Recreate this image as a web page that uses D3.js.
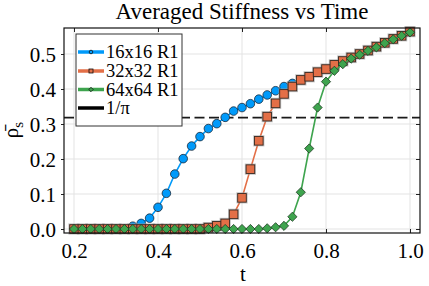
<!DOCTYPE html>
<html><head><meta charset="utf-8">
<script src="https://cdn.jsdelivr.net/npm/d3@7/dist/d3.min.js"></script>
<style>body{margin:0;background:#fff}svg{display:block}text{font-family:"Liberation Serif","Times New Roman","DejaVu Serif",serif;fill:#000}</style>
</head><body>
<script>
// ---- data ----
const tBlue = [0.20,0.22,0.24,0.26,0.28,0.30,0.32,0.34,0.36,0.38,0.40,0.42,0.44,0.46,0.48,0.50,0.52,0.54,0.56,0.58,0.60,0.62,0.64,0.66,0.68,0.70,0.72];
const vBlue = [0,0,0,0,0,0,0,0.008,0.016,0.031,0.062,0.102,0.157,0.201,0.237,0.264,0.287,0.301,0.319,0.337,0.347,0.358,0.371,0.383,0.395,0.407,0.416];
const tFull = [0.20,0.22,0.24,0.26,0.28,0.30,0.32,0.34,0.36,0.38,0.40,0.42,0.44,0.46,0.48,0.50,0.52,0.54,0.56,0.58,0.60,0.62,0.64,0.66,0.68,0.70,0.72,0.74,0.76,0.78,0.80,0.82,0.84,0.86,0.88,0.90,0.92,0.94,0.96,0.98,1.00];
const vOrange = [0,0,0,0,0,0,0,0,0,0,0,0,0,0,0,0,0.004,0.009,0.016,0.042,0.089,0.171,0.252,0.321,0.359,0.386,0.407,0.426,0.435,0.448,0.457,0.469,0.480,0.490,0.500,0.510,0.521,0.532,0.543,0.552,0.564];
const vGreen = [0,0,0,0,0,0,0,0,0,0,0,0,0,0,0,0,0,0,0,0,0,0,0,0.002,0.005,0.009,0.035,0.105,0.230,0.347,0.421,0.452,0.471,0.487,0.498,0.509,0.519,0.531,0.542,0.552,0.562];
const seriesNames = ["16x16 R1","32x32 R1","64x64 R1","1/π"];
const xTicks = [0.2,0.4,0.6,0.8,1.0];
const xTickLabels = ["0.2","0.4","0.6","0.8","1.0"];
const yTicks = [0.0,0.1,0.2,0.3,0.4,0.5];
const yTickLabels = ["0.0","0.1","0.2","0.3","0.4","0.5"];
const refLine = 1/Math.PI;

const FONT = '"Liberation Serif","Times New Roman","DejaVu Serif",serif';
const W=429,H=286;
const L=64,R=420,T=28,B=233;
const x = d3.scaleLinear().domain([0.2-10/420, 1.0+10/420]).range([L,R]);
const y = d3.scaleLinear().domain([-4/350, 201/350]).range([B,T]);

const svg = d3.select("body").append("svg").attr("width",W).attr("height",H)
  .attr("font-family",FONT);

// grid
svg.append("g").selectAll("line").data(xTicks).join("line")
  .attr("x1",d=>x(d)).attr("x2",d=>x(d)).attr("y1",T).attr("y2",B)
  .attr("stroke","#e3e3e3").attr("stroke-width",1);
svg.append("g").selectAll("line").data(yTicks).join("line")
  .attr("y1",d=>y(d)).attr("y2",d=>y(d)).attr("x1",L).attr("x2",R)
  .attr("stroke","#e3e3e3").attr("stroke-width",1);

// axes via d3 axis
const xAxis = svg.append("g").attr("transform",`translate(0,${B})`)
  .call(d3.axisBottom(x).tickValues(xTicks).tickFormat((d,i)=>xTickLabels[i]).tickSize(-4).tickPadding(10));
const yAxis = svg.append("g").attr("transform",`translate(${L},0)`)
  .call(d3.axisLeft(y).tickValues(yTicks).tickFormat((d,i)=>yTickLabels[i]).tickSize(3).tickPadding(5));
const yAxisR = svg.append("g").attr("transform",`translate(${R},0)`)
  .call(d3.axisRight(y).tickValues(yTicks).tickFormat("").tickSize(-4));
const xAxisT = svg.append("g").attr("transform",`translate(0,${T})`)
  .call(d3.axisTop(x).tickValues(xTicks).tickFormat("").tickSize(-4));
[xAxis,yAxis,yAxisR,xAxisT].forEach(g=>{
  g.attr("font-family",FONT).attr("font-size",21);
  g.select(".domain").remove();
  g.selectAll(".tick line").attr("stroke","#222").attr("stroke-width",1);
  g.selectAll("text").attr("font-family",FONT).style("font-family",FONT).style("font-size","21px").attr("fill","#000");
});
xAxis.selectAll("text").attr("dy","0.71em");
yAxis.selectAll("text").attr("dy","0.34em");

// reference dashed line
svg.append("line").attr("x1",L).attr("x2",R).attr("y1",y(refLine)).attr("y2",y(refLine))
  .attr("stroke","#1a1a1a").attr("stroke-width",1.6).attr("stroke-dasharray","10,4.5");

const cBlue="#009AFA", cOrange="#E36F47", cGreen="#3EA44E";
const line = d3.line().x(d=>x(d[0])).y(d=>y(d[1]));
const blue = tBlue.map((t,i)=>[t,vBlue[i]]);
const orange = tFull.map((t,i)=>[t,vOrange[i]]);
const green = tFull.map((t,i)=>[t,vGreen[i]]);

const plot = svg.append("g");
// blue
plot.append("path").datum(blue).attr("d",line).attr("fill","none").attr("stroke",cBlue).attr("stroke-width",1.6);
plot.append("g").selectAll("circle").data(blue).join("circle")
  .attr("cx",d=>x(d[0])).attr("cy",d=>y(d[1])).attr("r",4.3)
  .attr("fill",cBlue).attr("stroke","#1b2a3a").attr("stroke-width",0.8);
// orange
plot.append("path").datum(orange).attr("d",line).attr("fill","none").attr("stroke",cOrange).attr("stroke-width",1.6);
const sq=8.6;
plot.append("g").selectAll("rect.halo").data(orange).join("rect")
  .attr("x",d=>x(d[0])-sq/2).attr("y",d=>y(d[1])-sq/2).attr("width",sq).attr("height",sq)
  .attr("fill","none").attr("stroke","#999").attr("stroke-opacity",0.6).attr("stroke-width",2.6);
plot.append("g").selectAll("rect.m").data(orange).join("rect")
  .attr("x",d=>x(d[0])-sq/2).attr("y",d=>y(d[1])-sq/2).attr("width",sq).attr("height",sq)
  .attr("fill",cOrange).attr("stroke","#3a2a22").attr("stroke-width",0.9);
// green
plot.append("path").datum(green).attr("d",line).attr("fill","none").attr("stroke",cGreen).attr("stroke-width",1.6);
const dm=4.6;
plot.append("g").selectAll("path.d").data(green).join("path")
  .attr("d",d=>{const cx=x(d[0]),cy=y(d[1]);return `M${cx},${cy-dm}L${cx+dm},${cy}L${cx},${cy+dm}L${cx-dm},${cy}Z`;})
  .attr("fill",cGreen).attr("stroke","#1e3a22").attr("stroke-width",0.8);

// frame
svg.append("rect").attr("x",L).attr("y",T).attr("width",R-L).attr("height",B-T)
  .attr("fill","none").attr("stroke","#111").attr("stroke-width",1.2);

// legend
const lg = svg.append("g");
lg.append("rect").attr("x",76).attr("y",34).attr("width",106).attr("height",92)
  .attr("fill","#fff").attr("stroke","#333").attr("stroke-width",1);
const rows=[52,71,89.5,108];
const colors=[cBlue,cOrange,cGreen,"#000"];
seriesNames.forEach((name,i)=>{
  const ry=rows[i];
  lg.append("line").attr("x1",78).attr("x2",104).attr("y1",ry).attr("y2",ry)
    .attr("stroke",colors[i]).attr("stroke-width",3.5);
  if(i===0) lg.append("circle").attr("cx",91).attr("cy",ry).attr("r",1.8).attr("fill",cBlue).attr("stroke","#111").attr("stroke-width",0.8);
  if(i===1) lg.append("rect").attr("x",89).attr("y",ry-2).attr("width",4).attr("height",4).attr("fill",cOrange).attr("stroke","#111").attr("stroke-width",0.8);
  if(i===2) lg.append("path").attr("d",`M91,${ry-2.2}L93.2,${ry}L91,${ry+2.2}L88.8,${ry}Z`).attr("fill",cGreen).attr("stroke","#111").attr("stroke-width",0.8);
  lg.append("text").attr("x",106).attr("y",ry+6).style("font-size","18.5px").text(name);
});

// title & labels
svg.append("text").attr("x",242).attr("y",19).attr("text-anchor","middle").style("font-size","23px").text("Averaged Stiffness vs Time");
svg.append("text").attr("x",243).attr("y",281).attr("text-anchor","middle").style("font-size","21px").text("t");
const yl = svg.append("text").attr("transform","translate(18,130) rotate(-90)").attr("text-anchor","middle").style("font-size","21px");
yl.append("tspan").text("ρ\u0304");
yl.append("tspan").attr("dy",5).style("font-size","15px").text("s");
</script>
</body></html>
